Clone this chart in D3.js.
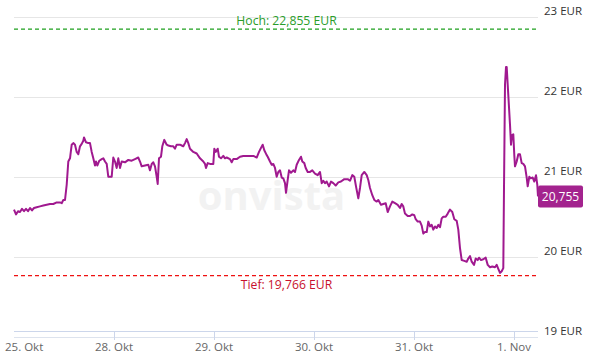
<!DOCTYPE html>
<html>
<head>
<meta charset="utf-8">
<script src="https://cdn.jsdelivr.net/npm/d3@7"></script>
<style>
  body { margin: 0; background: #fff; }
  svg { display: block; font-family: "Open Sans", sans-serif; }
</style>
</head>
<body>
<svg id="chart" width="590" height="358"></svg>
<script>
// trading days shown on the x axis (index = day position)
const day_labels = ["25. Okt", "28. Okt", "29. Okt", "30. Okt", "31. Okt", "1. Nov"];
const y_ticks = [19, 20, 21, 22, 23];

// time in trading days since the open of 25. Okt
const times = [
  0, .02, .04, .06, .08, .10, .12, .14, .16, .18, .20, .227, .26, .293, .327, .36, .393, .427, .46, .477,
  .493, .51, .527, .543, .56, .577, .593, .61, .627, .643, .66, .677, .693, .70, .72, .743, .76, .777, .793, .81,
  .82, .833, .853, .877, .893, .91, .927, .943, .977, .993, 1.01, 1.027, 1.043, 1.06, 1.077, 1.11, 1.143, 1.177, 1.21, 1.243,
  1.26, 1.277, 1.31, 1.343, 1.36, 1.377, 1.393, 1.41, 1.427, 1.437, 1.45, 1.47, 1.483, 1.503, 1.527, 1.543, 1.57, 1.593, 1.61, 1.627,
  1.66, 1.677, 1.693, 1.71, 1.727, 1.743, 1.76, 1.793, 1.827, 1.86, 1.893, 1.91, 1.92, 1.937, 1.96, 1.993, 2.003, 2.017, 2.037, 2.05,
  2.07, 2.093, 2.11, 2.127, 2.16, 2.177, 2.193, 2.227, 2.26, 2.293, 2.327, 2.36, 2.393, 2.427, 2.45, 2.47, 2.487, 2.503, 2.527, 2.537,
  2.56, 2.577, 2.593, 2.61, 2.627, 2.643, 2.66, 2.677, 2.693, 2.71, 2.72, 2.737, 2.75, 2.77, 2.793, 2.81, 2.827, 2.85, 2.87, 2.883,
  2.903, 2.917, 2.937, 2.96, 2.983, 3.01, 3.037, 3.06, 3.077, 3.093, 3.11, 3.127, 3.15, 3.17, 3.193, 3.217, 3.243, 3.27, 3.303, 3.337,
  3.36, 3.383, 3.403, 3.42, 3.443, 3.46, 3.477, 3.503, 3.527, 3.543, 3.56, 3.583, 3.603, 3.627, 3.643, 3.67, 3.693, 3.717, 3.737, 3.76,
  3.783, 3.81, 3.837, 3.86, 3.877, 3.893, 3.91, 3.937, 3.96, 3.983, 4.003, 4.017, 4.037, 4.06, 4.077, 4.093, 4.11, 4.127, 4.143, 4.16,
  4.177, 4.193, 4.21, 4.227, 4.243, 4.26, 4.277, 4.293, 4.317, 4.337, 4.36, 4.383, 4.403, 4.427, 4.443, 4.46, 4.477, 4.503, 4.527, 4.543,
  4.56, 4.577, 4.60, 4.617, 4.637, 4.65, 4.67, 4.693, 4.717, 4.737, 4.76, 4.783, 4.81, 4.827, 4.843, 4.86, 4.877, 4.893, 4.90, 4.91,
  4.92, 4.927, 4.943, 4.96, 4.97, 4.98, 4.993, 5.003, 5.01, 5.027, 5.043, 5.06, 5.077, 5.093, 5.11, 5.127, 5.137, 5.153, 5.167, 5.187,
  5.203, 5.22, 5.233, 5.24
];

// price in EUR
const prices = [
  20.59, 20.53, 20.57, 20.56, 20.60, 20.57, 20.60, 20.57, 20.61, 20.58, 20.61, 20.62, 20.63, 20.64, 20.65, 20.66, 20.66, 20.68, 20.68, 20.67,
  20.71, 20.71, 20.90, 21.19, 21.23, 21.40, 21.42, 21.40, 21.31, 21.28, 21.38, 21.41, 21.45, 21.49, 21.43, 21.42, 21.42, 21.31, 21.23, 21.14,
  21.19, 21.14, 21.20, 21.22, 21.23, 21.19, 21.16, 21.00, 21.00, 21.24, 21.19, 21.11, 21.23, 21.11, 21.19, 21.18, 21.21, 21.20, 21.22, 21.24,
  21.19, 21.13, 21.14, 21.15, 21.08, 21.16, 21.18, 21.13, 21.00, 20.91, 21.23, 21.25, 21.38, 21.46, 21.40, 21.39, 21.38, 21.38, 21.35, 21.40,
  21.40, 21.39, 21.38, 21.42, 21.47, 21.42, 21.35, 21.31, 21.29, 21.23, 21.19, 21.16, 21.11, 21.17, 21.16, 21.16, 21.35, 21.31, 21.35, 21.25,
  21.23, 21.26, 21.23, 21.24, 21.22, 21.18, 21.22, 21.22, 21.25, 21.26, 21.26, 21.26, 21.26, 21.24, 21.31, 21.36, 21.40, 21.33, 21.27, 21.25,
  21.19, 21.15, 21.16, 21.11, 21.00, 21.06, 21.08, 20.99, 20.98, 20.92, 20.80, 20.96, 21.08, 21.05, 21.08, 21.06, 21.15, 21.21, 21.25, 21.19,
  21.17, 21.11, 21.06, 21.06, 21.08, 21.04, 21.02, 21.06, 20.92, 20.95, 20.92, 20.94, 20.88, 20.94, 20.92, 20.89, 20.93, 20.94, 20.97, 20.97,
  20.95, 21.02, 21.00, 20.88, 20.73, 20.86, 21.02, 21.06, 21.02, 20.96, 20.86, 20.77, 20.71, 20.69, 20.71, 20.65, 20.66, 20.67, 20.56, 20.63,
  20.69, 20.67, 20.65, 20.61, 20.66, 20.63, 20.54, 20.51, 20.51, 20.53, 20.52, 20.47, 20.44, 20.44, 20.39, 20.29, 20.31, 20.31, 20.44, 20.38,
  20.40, 20.34, 20.38, 20.36, 20.40, 20.37, 20.48, 20.50, 20.50, 20.54, 20.59, 20.56, 20.47, 20.45, 20.34, 20.11, 19.96, 19.95, 19.94, 19.98,
  20.01, 19.94, 19.90, 19.98, 19.96, 19.99, 19.96, 19.97, 19.99, 19.90, 19.87, 19.88, 19.87, 19.90, 19.85, 19.80, 19.82, 19.86, 20.86, 22.15,
  22.37, 22.37, 22.02, 21.65, 21.40, 21.52, 21.53, 21.27, 21.13, 21.19, 21.28, 21.28, 21.17, 21.16, 21.13, 20.99, 20.88, 21.00, 20.98, 20.99,
  20.94, 21.02, 20.90, 20.755
];

const high_value = 22.855;
const low_value = 19.766;
const last_value = 20.755;

function fmt_de(v){
  return v.toFixed(3).replace(".", ",");
}

const svg = d3.select("#chart");
const plot_left = 14, plot_right = 538, plot_top = 16.5, plot_bottom = 337;

const x = d3.scaleLinear().domain([0, 5]).range([plot_left, 514]);
const y = d3.scaleLinear().domain([19, 23]).range([plot_bottom, plot_top]);

// watermark
svg.append("text")
  .attr("x", 271.5)
  .attr("y", 210)
  .attr("text-anchor", "middle")
  .attr("font-size", "40px")
  .attr("font-weight", "bold")
  .attr("fill", "#f2f2f2")
  .text("onvista");

// horizontal grid
svg.append("g").selectAll("line")
  .data(y_ticks)
  .enter().append("line")
    .attr("x1", plot_left)
    .attr("x2", plot_right)
    .attr("y1", d => Math.round(y(d)) + 0.5)
    .attr("y2", d => Math.round(y(d)) + 0.5)
    .attr("stroke", d => d == 19 ? "#dde3ee" : "#e6e6e6")
    .attr("stroke-width", 1);

// y labels on the right
svg.append("g").selectAll("text")
  .data(y_ticks)
  .enter().append("text")
    .attr("x", 544)
    .attr("y", d => y(d) - 2)
    .attr("font-size", "11.5px")
    .attr("fill", "#333")
    .text(d => d + " EUR");

// x axis line, ticks and labels
const axis_y = 332;
svg.append("line")
  .attr("x1", plot_left).attr("x2", plot_right)
  .attr("y1", axis_y - 0.5).attr("y2", axis_y - 0.5)
  .attr("stroke", "#ccd6eb");

svg.append("g").selectAll("line")
  .data(d3.range(1, day_labels.length))
  .enter().append("line")
    .attr("x1", d => Math.round(x(d)) + 0.5)
    .attr("x2", d => Math.round(x(d)) + 0.5)
    .attr("y1", axis_y)
    .attr("y2", axis_y + 8)
    .attr("stroke", "#ccd6eb");

svg.append("g").selectAll("text")
  .data(day_labels)
  .enter().append("text")
    .attr("x", (d, i) => i == 0 ? 5 : x(i))
    .attr("y", 351)
    .attr("text-anchor", (d, i) => i == 0 ? "start" : "middle")
    .attr("font-size", "11.5px")
    .attr("fill", "#666")
    .text(d => d);

// high / low reference lines
svg.append("line")
  .attr("x1", plot_left).attr("x2", plot_right)
  .attr("y1", y(high_value) + 1).attr("y2", y(high_value) + 1)
  .attr("stroke", "#1ea01e")
  .attr("stroke-width", 1.2)
  .attr("stroke-dasharray", "4,3");
svg.append("text")
  .attr("x", 286.5)
  .attr("y", y(high_value) - 3)
  .attr("text-anchor", "middle")
  .attr("font-size", "12.2px")
  .attr("fill", "#2a9d2a")
  .text("Hoch: " + fmt_de(high_value) + " EUR");

svg.append("line")
  .attr("x1", plot_left).attr("x2", plot_right)
  .attr("y1", y(low_value)).attr("y2", y(low_value))
  .attr("stroke", "#ee1111")
  .attr("stroke-width", 1.2)
  .attr("stroke-dasharray", "4,3");
svg.append("text")
  .attr("x", 286.5)
  .attr("y", y(low_value) + 13)
  .attr("text-anchor", "middle")
  .attr("font-size", "12.2px")
  .attr("fill", "#c8102e")
  .text("Tief: " + fmt_de(low_value) + " EUR");

// price line
const series = times.map((t, i) => ({t: t, v: prices[i]}));
svg.append("path")
  .datum(series)
  .attr("fill", "none")
  .attr("stroke", "#a0198f")
  .attr("stroke-width", 2)
  .attr("stroke-linejoin", "round")
  .attr("d", d3.line().x(d => x(d.t)).y(d => y(d.v)));

// last price badge
const badge = svg.append("g")
  .attr("transform", "translate(" + plot_right + "," + y(last_value) + ")");
badge.append("rect")
  .attr("x", 0).attr("y", -11)
  .attr("width", 45).attr("height", 22)
  .attr("rx", 2)
  .attr("fill", "#a3238e");
badge.append("text")
  .attr("x", 22.5).attr("y", 4.5)
  .attr("text-anchor", "middle")
  .attr("font-size", "12px")
  .attr("fill", "#fff")
  .text(fmt_de(last_value));
</script>
</body>
</html>
